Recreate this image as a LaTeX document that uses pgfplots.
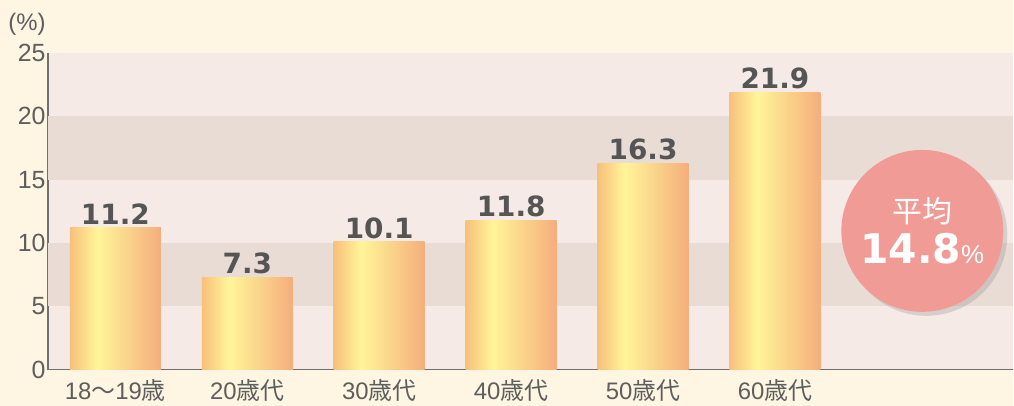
\documentclass[border=0pt]{standalone}
\usepackage{pgfplots}
\pgfplotsset{compat=1.18}
\usepackage{fontspec}
\setmainfont{Liberation Sans}
\newfontfamily\jp{Noto Sans CJK JP}
\newfontfamily\heavy{DejaVu Sans}
\usetikzlibrary{shadows}
\definecolor{bg}{HTML}{FEF6E3}
\definecolor{bandlight}{HTML}{F5EAE6}
\definecolor{banddark}{HTML}{E9DCD5}
\definecolor{txt}{HTML}{5E5E5E}
\definecolor{lab}{HTML}{555555}
\definecolor{axisgray}{HTML}{707070}
\definecolor{barL}{HTML}{F7C07B}
\definecolor{barM}{HTML}{FFF598}
\definecolor{barR}{HTML}{F5AE7C}
\definecolor{circ}{HTML}{F09B95}
\pgfdeclarehorizontalshading{barshade}{100bp}{color(0bp)=(barL); color(25bp)=(barL); color(40bp)=(barM); color(75bp)=(barR); color(100bp)=(barR)}
\pgfplotsset{onebar/.style={ybar, bar width=0.69, draw=none, shading=barshade,
  nodes near coords,
  nodes near coords style={font=\heavy\bfseries\fontsize{28}{28}\selectfont, text=lab, inner sep=3bp},
  point meta=explicit symbolic}}
\begin{document}
\begin{tikzpicture}
\fill[bg] (0,0) rectangle (1014bp,406bp);
\begin{axis}[
  at={(48bp,36bp)}, anchor=south west,
  scale only axis, width=966bp, height=317bp,
  xmin=-0.511, xmax=6.807, ymin=0, ymax=25,
  axis lines*=left,
  axis line style={draw=axisgray, line width=1.3bp, -},
  axis background/.style={fill=bandlight},
  xtick={0,...,5},
  xticklabels={18{\jp 〜}19{\jp 歳},20{\jp 歳代},30{\jp 歳代},40{\jp 歳代},50{\jp 歳代},60{\jp 歳代}},
  ytick={0,5,...,25},
  major tick length=0pt,
  tick style={draw=none},
  /pgf/number format/assume math mode=true,
  y tick label style={font=\fontsize{25}{25}\selectfont, text=txt, xshift=1bp},
  x tick label style={font=\fontsize{24}{24}\selectfont, text=txt, yshift=-6bp},
]
\fill[banddark] (axis cs:-0.511,5) rectangle (axis cs:6.807,10);
\fill[banddark] (axis cs:-0.511,15) rectangle (axis cs:6.807,20);
\addplot[onebar] coordinates {(0,11.2)[11.2]};
\addplot[onebar] coordinates {(1,7.3)[7.3]};
\addplot[onebar] coordinates {(2,10.1)[10.1]};
\addplot[onebar] coordinates {(3,11.8)[11.8]};
\addplot[onebar] coordinates {(4,16.3)[16.3]};
\addplot[onebar] coordinates {(5,21.9)[21.9]};
\node[circle, fill=circ, minimum size=162bp, inner sep=0pt, align=center, text=white,
  drop shadow={opacity=0.25, shadow xshift=4bp, shadow yshift=-4bp}]
  at (axis cs:6.117,10.96)
  {{\jp\fontsize{30}{30}\selectfont 平均}\\[7bp]{\heavy\bfseries\fontsize{41}{41}\selectfont 14.8}{\fontsize{26}{26}\selectfont\%}};
\end{axis}
\node[text=txt, font=\fontsize{24}{24}\selectfont] at (27bp,382bp) {(\%)};
\end{tikzpicture}
\end{document}
